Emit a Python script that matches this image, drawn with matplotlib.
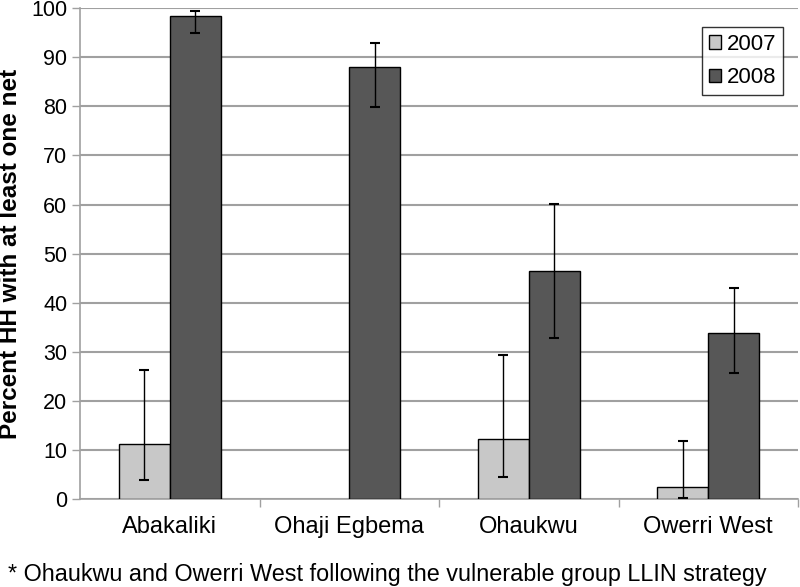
import numpy as np
import matplotlib.pyplot as plt

plt.rcParams['font.family'] = ['Liberation Sans', 'DejaVu Sans']

# --- data ---
districts = ['Abakaliki', 'Ohaji Egbema', 'Ohaukwu', 'Owerri West']
pct_2007 = [11.2, np.nan, 12.3, 2.4]
lo_2007 = [3.9, np.nan, 4.4, 0.2]
hi_2007 = [26.2, np.nan, 29.4, 11.8]
pct_2008 = [98.4, 88.0, 46.5, 33.9]
lo_2008 = [95.0, 79.8, 32.7, 25.7]
hi_2008 = [99.4, 92.9, 60.2, 43.0]
footnote = '* Ohaukwu and Owerri West following the vulnerable group LLIN strategy'

fig = plt.figure(figsize=(8, 5.87), dpi=100)
ax = fig.add_axes([0.1, 0.15, 0.8975, 0.836])

x = np.arange(len(districts))
w = 0.283
v7 = np.array(pct_2007)
v8 = np.array(pct_2008)
err7 = [v7 - np.array(lo_2007), np.array(hi_2007) - v7]
err8 = [v8 - np.array(lo_2008), np.array(hi_2008) - v8]

ax.bar(x - w / 2, v7, w, color='#c8c8c8', edgecolor='black', linewidth=1,
       label='2007', zorder=3)
ax.bar(x + w / 2, v8, w, color='#575757', edgecolor='black', linewidth=1,
       label='2008', zorder=3)
ax.errorbar(x - w / 2, v7, yerr=err7, fmt='none', ecolor='black',
            elinewidth=1, capsize=3.5, capthick=1.5, zorder=4)
ax.errorbar(x + w / 2, v8, yerr=err8, fmt='none', ecolor='black',
            elinewidth=1, capsize=3.5, capthick=1.5, zorder=4)

ax.set_xlim(-0.5, len(districts) - 0.5)
ax.set_ylim(0, 100)
ax.set_yticks(np.arange(0, 101, 10))
ax.yaxis.grid(True, color='#a0a0a0', linewidth=1.5, zorder=0)
ax.set_axisbelow(True)

ax.set_xticks(x)
ax.set_xticklabels(districts, fontsize=17)
ax.tick_params(axis='x', length=0, pad=12)
ax.set_xticks(np.arange(0.5, len(districts), 1), minor=True)
ax.tick_params(axis='x', which='minor', length=6, color='#a0a0a0', width=1)
ax.tick_params(axis='y', labelsize=15.5, length=6, color='#a0a0a0', width=1, pad=3)

for s in ['top', 'right']:
    ax.spines[s].set_visible(False)
for s in ['left', 'bottom']:
    ax.spines[s].set_color('#a0a0a0')
    ax.spines[s].set_linewidth(1.2)

ax.set_ylabel('Percent HH with at least one net', fontsize=17.5,
              fontweight='bold', labelpad=7)

leg = ax.legend(loc='upper right', bbox_to_anchor=(0.979, 0.961), fontsize=16,
                frameon=True, fancybox=False, handlelength=0.55,
                handleheight=0.55, handletextpad=0.25, borderpad=0.3,
                labelspacing=0.55, borderaxespad=0)
leg.get_frame().set_edgecolor('black')
leg.get_frame().set_linewidth(1)

fig.text(0.01, 0.022, footnote, fontsize=16.8, ha='left', va='center')

fig.savefig('out.png', dpi=100)
